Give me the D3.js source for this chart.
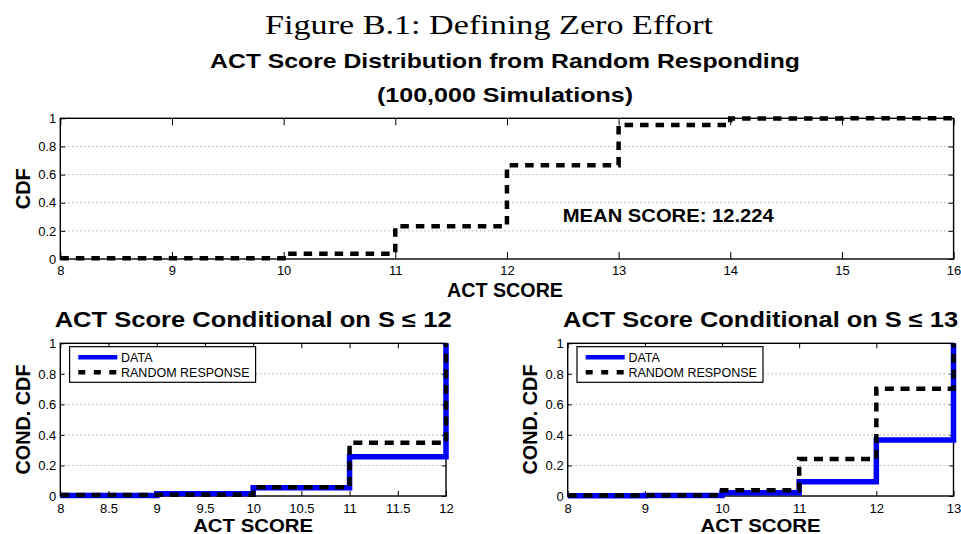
<!DOCTYPE html>
<html>
<head>
<meta charset="utf-8">
<script src="https://cdn.jsdelivr.net/npm/d3@7"></script>
<style>
  html, body { margin: 0; padding: 0; background: #fff; }
  svg { display: block; }
  text { font-family: "Liberation Sans", Arial, Helvetica, sans-serif; fill: #000; }
</style>
</head>
<body>
<svg id="chart" width="961" height="534"></svg>
<script>
// ---------------- DATA ----------------
const topScores = [8, 9, 10, 11, 12, 13, 14, 15, 16];
const topRandomCdf = [0.005, 0.006, 0.038, 0.232, 0.667, 0.952, 0.998, 1.0, 1.0];

const le12Scores = [8, 9, 10, 11, 12];
const le12Data = [0.003, 0.015, 0.054, 0.257, 1.0];
const le12Random = [0.006, 0.008, 0.057, 0.349, 1.0];

const le13Scores = [8, 9, 10, 11, 12, 13];
const le13Data = [0.002, 0.003, 0.022, 0.094, 0.367, 1.0];
const le13Random = [0.004, 0.005, 0.038, 0.242, 0.703, 1.0];

const yTicks = [0, 0.2, 0.4, 0.6, 0.8, 1];
const yTickLabels = ["0", "0.2", "0.4", "0.6", "0.8", "1"];
const topXTicks = [8, 9, 10, 11, 12, 13, 14, 15, 16];
const le12XTicks = [8, 8.5, 9, 9.5, 10, 10.5, 11, 11.5, 12];
const le13XTicks = [8, 9, 10, 11, 12, 13];

const figureTitle = "Figure B.1: Defining Zero Effort";
const topTitle = ["ACT Score Distribution from Random Responding", "(100,000 Simulations)"];
const meanLabel = "MEAN SCORE: 12.224";
const meanPos = [12.5, 0.265];
const legendLabels = ["DATA", "RANDOM RESPONSE"];

// ---------------- DRAW ----------------
const svg = d3.select("#chart");
svg.append("rect").attr("width", 961).attr("height", 534).attr("fill", "#fff");

function label(g, txt, x, y, opts) {
  const t = g.append("text")
    .attr("x", x).attr("y", y)
    .attr("text-anchor", opts.anchor || "middle")
    .style("font-size", opts.size + "px")
    .style("font-weight", opts.bold ? "bold" : "normal")
    .text(txt);
  if (opts.family) t.style("font-family", opts.family);
  if (opts.len) t.attr("textLength", opts.len).attr("lengthAdjust", "spacingAndGlyphs");
  if (opts.rotate) t.attr("transform", `rotate(-90,${x},${y})`);
  return t;
}

function panel(cfg) {
  const x = d3.scaleLinear().domain(cfg.xDomain).range([cfg.left, cfg.right]);
  const y = d3.scaleLinear().domain([0, 1]).range([cfg.bottom, cfg.top]);
  const g = svg.append("g");

  // grid (dotted, horizontal only)
  g.selectAll(".grid").data(yTicks.filter(v => v > 0 && v < 1)).enter()
    .append("line")
    .attr("x1", cfg.left).attr("x2", cfg.right)
    .attr("y1", d => y(d)).attr("y2", d => y(d))
    .attr("stroke", "#8a8a8a").attr("stroke-width", 1)
    .attr("stroke-dasharray", "1,3");

  const fmtX = d => String(d);
  const fmtY = d => yTickLabels[yTicks.indexOf(d)];

  const axB = g.append("g").attr("transform", `translate(0,${cfg.bottom})`)
    .call(d3.axisBottom(x).tickValues(cfg.xTicks).tickFormat(fmtX)
      .tickSizeInner(-cfg.tick).tickSizeOuter(0).tickPadding(cfg.xPad));
  const axT = g.append("g").attr("transform", `translate(0,${cfg.top})`)
    .call(d3.axisTop(x).tickValues(cfg.xTicks).tickFormat("")
      .tickSizeInner(-cfg.tick).tickSizeOuter(0));
  const axL = g.append("g").attr("transform", `translate(${cfg.left},0)`)
    .call(d3.axisLeft(y).tickValues(yTicks).tickFormat(fmtY)
      .tickSizeInner(-cfg.ytick).tickSizeOuter(0).tickPadding(4));
  const axR = g.append("g").attr("transform", `translate(${cfg.right},0)`)
    .call(d3.axisRight(y).tickValues(yTicks).tickFormat("")
      .tickSizeInner(-cfg.ytick).tickSizeOuter(0));
  [axB, axT, axL, axR].forEach(a => {
    a.select(".domain").remove();
    a.selectAll(".tick line").attr("stroke", "#000").attr("stroke-width", 1);
    a.selectAll(".tick text").style("font-size", "13px")
      .style("font-family", "'Liberation Sans', Arial, sans-serif").attr("fill", "#111");
  });

  // box
  g.append("rect").attr("x", cfg.left).attr("y", cfg.top)
    .attr("width", cfg.right - cfg.left).attr("height", cfg.bottom - cfg.top)
    .attr("fill", "none").attr("stroke", "#000").attr("stroke-width", 1.4);

  const line = d3.line().x(d => x(d[0])).y(d => y(d[1])).curve(d3.curveStepAfter);

  if (cfg.data) {
    g.append("path").datum(cfg.scores.map((s, i) => [s, cfg.data[i]]))
      .attr("d", line).attr("fill", "none")
      .attr("stroke", "#0000ff").attr("stroke-width", 5.5)
      .attr("stroke-linejoin", "miter");
  }
  g.append("path").datum(cfg.scores.map((s, i) => [s, cfg.random[i]]))
    .attr("d", line).attr("fill", "none")
    .attr("stroke", "#000").attr("stroke-width", 4.5)
    .attr("stroke-dasharray", cfg.dash);

  return { g, x, y };
}

// Figure title
label(svg, figureTitle, 489, 34, { size: 28, family: "'Liberation Serif', 'DejaVu Serif', serif", len: 448 });

// ---- top panel ----
const P1 = panel({
  xDomain: [8, 16], left: 60.3, right: 953.6, top: 118.3, bottom: 259,
  xTicks: topXTicks, tick: 7, ytick: 5, xPad: 7,
  scores: topScores, random: topRandomCdf, dash: "8.5,7"
});
label(svg, topTitle[0], 505, 68, { size: 20.5, bold: true, len: 590 });
label(svg, topTitle[1], 505, 102, { size: 20.5, bold: true, len: 256 });
label(svg, "CDF", 30, 188.7, { size: 20, bold: true, rotate: true, len: 41 });
label(svg, "ACT SCORE", 505, 296.5, { size: 20, bold: true, len: 116 });
label(svg, meanLabel, P1.x(meanPos[0]), P1.y(meanPos[1]), { size: 19, bold: true, anchor: "start", len: 211 });

// ---- bottom panels ----
function bottomPanel(cfg) {
  const P = panel(Object.assign({
    top: 343.3, bottom: 496, tick: 5, ytick: 4, xPad: 8, dash: "9,6.7"
  }, cfg));
  const cx = (cfg.left + cfg.right) / 2;
  label(svg, cfg.title, cx, 327, { size: 21.5, bold: true, len: cfg.titleLen });
  label(svg, "COND. CDF", cfg.ylabX, 419.5, { size: 20, bold: true, rotate: true, len: 110 });
  label(svg, "ACT SCORE", cx, 531.5, { size: 19, bold: true, len: 120 });

  // legend
  const lx = cfg.left + 9.3, ly = 346.7, lw = 186, lh = 35.6;
  const lg = svg.append("g");
  lg.append("rect").attr("x", lx).attr("y", ly).attr("width", lw).attr("height", lh)
    .attr("fill", "#fff").attr("stroke", "#000").attr("stroke-width", 1.2);
  const rows = [ly + 10.6, ly + 25.6];
  lg.append("line").attr("x1", lx + 8.7).attr("x2", lx + 47.7)
    .attr("y1", rows[0]).attr("y2", rows[0])
    .attr("stroke", "#0000ff").attr("stroke-width", 4.5);
  lg.append("line").attr("x1", lx + 8.7).attr("x2", lx + 47.7)
    .attr("y1", rows[1]).attr("y2", rows[1])
    .attr("stroke", "#000").attr("stroke-width", 4.5).attr("stroke-dasharray", "7,8.5");
  legendLabels.forEach((t, i) => {
    label(lg, t, lx + 51.4, rows[i] + 4.5, { size: 12.5, anchor: "start" });
  });
  return P;
}

bottomPanel({
  xDomain: [8, 12], left: 60.3, right: 446, xTicks: le12XTicks,
  scores: le12Scores, data: le12Data, random: le12Random,
  title: "ACT Score Conditional on S \u2264 12", titleLen: 397, ylabX: 30
});
bottomPanel({
  xDomain: [8, 13], left: 567.7, right: 953.5, xTicks: le13XTicks,
  scores: le13Scores, data: le13Data, random: le13Random,
  title: "ACT Score Conditional on S \u2264 13", titleLen: 395, ylabX: 537
});
</script>
</body>
</html>
